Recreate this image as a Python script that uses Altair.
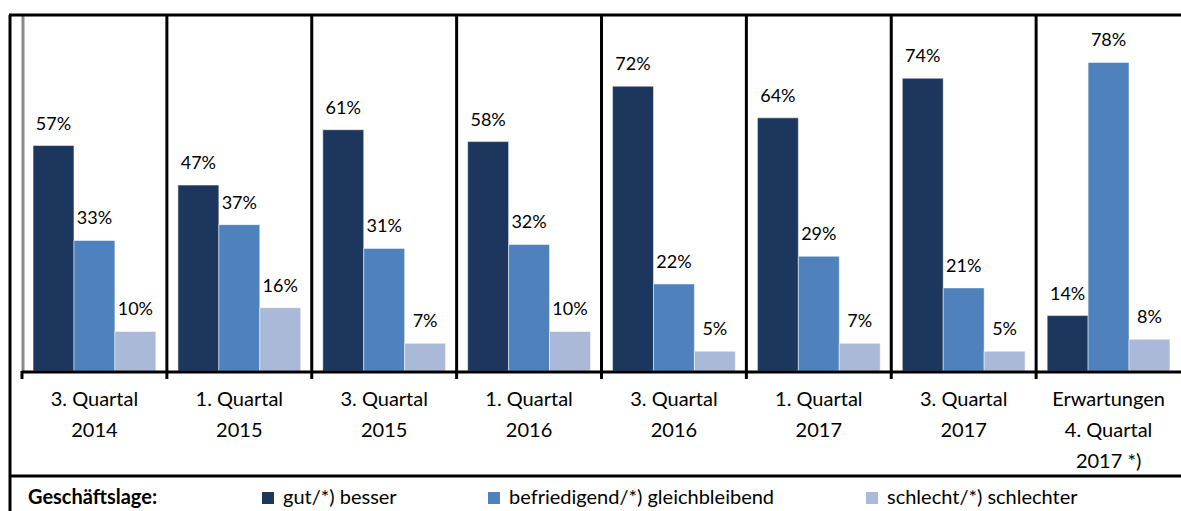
import altair as alt
import pandas as pd

categories = ["3. Quartal\n2014", "1. Quartal\n2015", "3. Quartal\n2015", "1. Quartal\n2016",
              "3. Quartal\n2016", "1. Quartal\n2017", "3. Quartal\n2017", "Erwartungen\n4. Quartal\n2017 *)"]
series = ["gut/*) besser", "befriedigend/*) gleichbleibend", "schlecht/*) schlechter"]
gut = [57, 47, 61, 58, 72, 64, 74, 14]
befriedigend = [33, 37, 31, 32, 22, 29, 21, 78]
schlecht = [10, 16, 7, 10, 5, 7, 5, 8]
colors = ["#1c365e", "#4f81bd", "#a9b9d7"]

rows = []
for i, c in enumerate(categories):
    for s, vals in zip(series, [gut, befriedigend, schlecht]):
        rows.append({"cat": c, "series": s, "value": vals[i], "label": f"{vals[i]}%"})
df = pd.DataFrame(rows)
cat_df = pd.DataFrame({"cat": categories})

FONT = "Lato"
W, H = 1159, 356

xscale = alt.Scale(domain=categories, paddingInner=0, paddingOuter=0)
yscale = alt.Scale(domain=[0, 90])
xo = alt.XOffset("series:N", sort=series, scale=alt.Scale(paddingInner=0, paddingOuter=0.27))

color = alt.Color("series:N", sort=series,
                  scale=alt.Scale(domain=series, range=colors),
                  legend=alt.Legend(orient="none", legendX=6, legendY=473, direction="horizontal",
                                    title="Geschäftslage:", titleOrient="left", titleFontWeight="bold",
                                    titleFontSize=20, titleFont=FONT, titleColor="black", titlePadding=100,
                                    labelFont=FONT, labelFontSize=20, labelColor="black", labelLimit=0,
                                    symbolType="square", symbolSize=144, symbolStrokeWidth=0,
                                    symbolOpacity=1, labelOffset=5, columnPadding=87, padding=0))

bars = alt.Chart(df).mark_bar(stroke="white", strokeWidth=0.5).encode(
    x=alt.X("cat:N", scale=xscale, sort=categories, axis=None),
    xOffset=xo,
    y=alt.Y("value:Q", scale=yscale, axis=None),
    color=color,
)

labels = alt.Chart(df).mark_text(font=FONT, fontSize=18, color="black", baseline="alphabetic", dy=-16).encode(
    x=alt.X("cat:N", scale=xscale, sort=categories, axis=None, bandPosition=0.5),
    xOffset=xo,
    y=alt.Y("value:Q", scale=yscale, axis=None),
    text="label:N",
)

cat_labels = alt.Chart(cat_df).mark_text(font=FONT, fontSize=20, color="black", baseline="top",
                                          lineBreak="\n", lineHeight=31).encode(
    x=alt.X("cat:N", scale=xscale, sort=categories, axis=None, bandPosition=0.5),
    y=alt.value(375),
    text="cat:N",
)

separators = alt.Chart(pd.DataFrame({"cat": categories[1:]})).mark_rule(color="black", strokeWidth=3).encode(
    x=alt.X("cat:N", scale=xscale, sort=categories, axis=None, bandPosition=0),
    y=alt.value(0), y2=alt.value(364),
)
first_tick = alt.Chart(pd.DataFrame({"cat": categories[:1]})).mark_rule(color="black", strokeWidth=3).encode(
    x=alt.X("cat:N", scale=xscale, sort=categories, axis=None, bandPosition=0),
    y=alt.value(356), y2=alt.value(364),
)

frame_src = pd.DataFrame({"k": [0]})
gray_axis = alt.Chart(frame_src).mark_rule(color="#8c8c8c", strokeWidth=3).encode(
    x=alt.value(1), y=alt.value(0), y2=alt.value(356))
baseline = alt.Chart(frame_src).mark_rule(color="black", strokeWidth=3).encode(
    x=alt.value(0), x2=alt.value(W), y=alt.value(357))
top_line = alt.Chart(frame_src).mark_rule(color="black", strokeWidth=3).encode(
    x=alt.value(-13), x2=alt.value(W), y=alt.value(0))
left_line = alt.Chart(frame_src).mark_rule(color="black", strokeWidth=3).encode(
    x=alt.value(-12), y=alt.value(0), y2=alt.value(500))
bottom_line = alt.Chart(frame_src).mark_rule(color="black", strokeWidth=3).encode(
    x=alt.value(-13), x2=alt.value(W), y=alt.value(461))

chart = alt.layer(
    bars, labels, cat_labels, separators, first_tick, gray_axis, baseline, top_line, left_line, bottom_line
).properties(
    width=W, height=H,
    autosize=alt.AutoSizeParams(type="none"),
    padding={"left": 22, "top": 15, "right": 0, "bottom": 140},
).configure_view(stroke=None).configure(background="white")

chart.save("out.html", embed_options={"renderer": "svg", "actions": False})
